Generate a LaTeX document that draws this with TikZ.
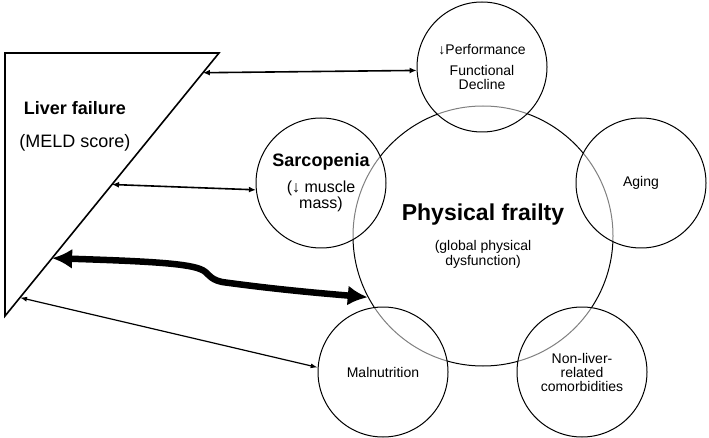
\documentclass[tikz,border=0pt]{standalone}
\usepackage{fontspec}
\setmainfont{Liberation Sans}
\usepackage{tikz}
\usetikzlibrary{calc,arrows.meta}
\tikzstyle{factor}=[circle,draw=black,fill=white,fill opacity=0.5,text opacity=1,
                    line width=1pt,minimum size=130pt,inner sep=0pt,align=center,
                    font=\fontsize{14}{14}\selectfont]
\tikzstyle{bigcircle}=[circle,draw=black,line width=1pt,minimum size=260pt,
                       inner sep=0pt,align=center,font=\fontsize{14}{15}\selectfont]
\tikzstyle{link}=[line width=1.6pt,{Latex[length=7pt,width=6pt]}-{Latex[length=7pt,width=6pt]}]
\tikzstyle{thinlink}=[line width=1.2pt,{Latex[length=7pt,width=5pt]}-{Latex[length=7pt,width=5pt]}]
\tikzstyle{biglink}=[line width=6.5pt,{Latex[length=20pt,width=20pt]}-{Latex[length=20pt,width=20pt]}]
\newcommand\boldline[2]{{\fontsize{#1}{#1}\selectfont\bfseries #2}}

\begin{document}
\begin{tikzpicture}[x=1pt,y=-1pt]
    \useasboundingbox (0,0) rectangle (709,438);
    % liver failure wedge
    \coordinate (wedge top) at (219,53);
    \coordinate (wedge bottom) at (5,316);
    \draw[line width=1.6pt] (5,53) -- (wedge top) -- (wedge bottom) -- cycle;
    \node [align=center,font=\fontsize{18}{33}\selectfont] (Liver failure) at (75,126) {
        \textbf{Liver failure}\\(MELD score)
    };
    % circles
    \node [bigcircle] (Physical frailty) at (483,236) {
        \boldline{23}{Physical frailty}\\[15pt](global physical\\dysfunction)
    };
    \node [factor] (Performance) at (482,67) {
        ↓Performance\\[7pt]Functional\\Decline
    };
    \node [factor,font=\fontsize{16}{16}\selectfont] (Sarcopenia) at (321,183) {
        \boldline{18}{Sarcopenia}\\[10pt](↓ muscle\\mass)
    };
    \node [factor] (Aging) at (641,183) {Aging};
    \node [factor] (Malnutrition) at (383,372) {Malnutrition};
    \node [factor] (Comorbidities) at (582,372) {
        Non-liver-\\related\\comorbidities
    };
    % arrows
    \coordinate (to Performance) at ($(wedge top)!0.075!(wedge bottom)$);
    \coordinate (to Sarcopenia) at ($(wedge top)!0.5!(wedge bottom)$);
    \coordinate (to Physical frailty) at ($(wedge top)!0.78!(wedge bottom)$);
    \coordinate (to Malnutrition) at ($(wedge top)!0.93!(wedge bottom)$);
    \draw [link] (to Performance) -- (Performance.183);
    \draw [link] (to Sarcopenia) -- (Sarcopenia.186);
    \draw [thinlink] (to Malnutrition) -- (Malnutrition.176);
    \draw [biglink] (to Physical frailty) .. controls (140,261) and (185,263) .. (200,269)
        .. controls (209,272) and (208,279) .. (222,282)
        .. controls (280,290) and (330,294) .. (Physical frailty.208);
\end{tikzpicture}
\end{document}
